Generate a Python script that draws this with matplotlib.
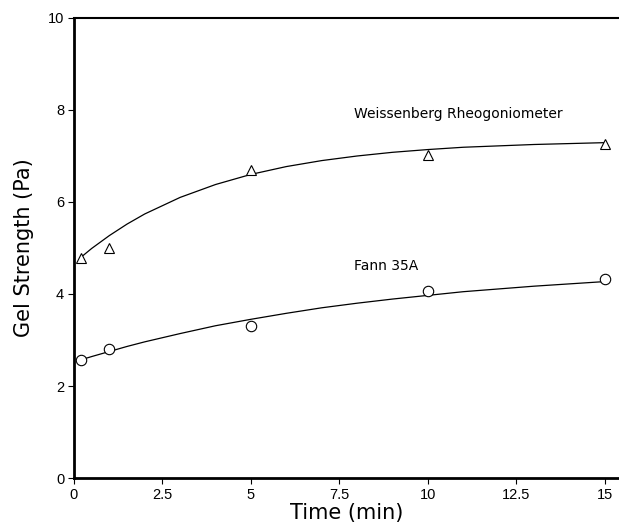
import matplotlib
matplotlib.use("Agg")
import matplotlib.pyplot as plt

plt.rcParams['font.family'] = ['Liberation Sans', 'DejaVu Sans']

# Measured points
time_pts = [0.2, 1, 5, 10, 15]
weissenberg_pts = [4.78, 5.0, 6.70, 7.02, 7.26]
fann_pts = [2.57, 2.80, 3.31, 4.07, 4.32]

# Fitted curves
curve_t = [0.2, 0.5, 1, 1.5, 2, 3, 4, 5, 6, 7, 8, 9, 10, 11, 12, 13, 14, 15]
weissenberg_curve = [4.80, 4.99, 5.27, 5.52, 5.74, 6.10, 6.38, 6.60, 6.77, 6.90,
                     7.00, 7.08, 7.14, 7.19, 7.22, 7.25, 7.27, 7.29]
fann_curve = [2.57, 2.64, 2.75, 2.86, 2.96, 3.14, 3.31, 3.45, 3.58, 3.70,
              3.80, 3.89, 3.97, 4.05, 4.11, 4.17, 4.22, 4.27]

x_ticks = [0, 2.5, 5, 7.5, 10, 12.5, 15]
x_tick_labels = ["0", "2.5", "5", "7.5", "10", "12.5", "15"]
y_ticks = [0, 2, 4, 6, 8, 10]

fig = plt.figure(figsize=(6.19, 5.29), dpi=100)
ax = fig.add_axes([0.1195, 0.0964, 0.8805, 0.8696])

ax.plot(curve_t, weissenberg_curve, color="black", lw=0.9, zorder=2)
ax.plot(curve_t, fann_curve, color="black", lw=0.9, zorder=2)
ax.plot(time_pts, weissenberg_pts, linestyle="none", marker="^", ms=7.5,
        mfc="white", mec="black", mew=0.8, zorder=3)
ax.plot(time_pts, fann_pts, linestyle="none", marker="o", ms=7.5,
        mfc="white", mec="black", mew=0.8, zorder=3)

label_font = ["DejaVu Sans"]
ax.text(7.9, 7.92, "Weissenberg Rheogoniometer", fontsize=10, ha="left",
        va="center", family=label_font)
ax.text(7.9, 4.60, "Fann 35A", fontsize=10, ha="left", va="center",
        family=label_font)

ax.set_xlim(0, 15.4)
ax.set_ylim(0, 10)
ax.set_xticks(x_ticks)
ax.set_xticklabels(x_tick_labels)
ax.set_yticks(y_ticks)
ax.tick_params(direction="out", length=4, width=0.8, labelsize=10.5, colors="black", pad=3)

ax.set_xlabel("Time (min)", fontsize=15, labelpad=1, family=label_font)
ax.set_ylabel("Gel Strength (Pa)", fontsize=15, labelpad=10, family=label_font)

ax.spines["right"].set_visible(False)
ax.spines["left"].set_linewidth(2.0)
ax.spines["bottom"].set_linewidth(2.0)
ax.spines["top"].set_linewidth(1.5)

fig.savefig("out.png", dpi=100)
